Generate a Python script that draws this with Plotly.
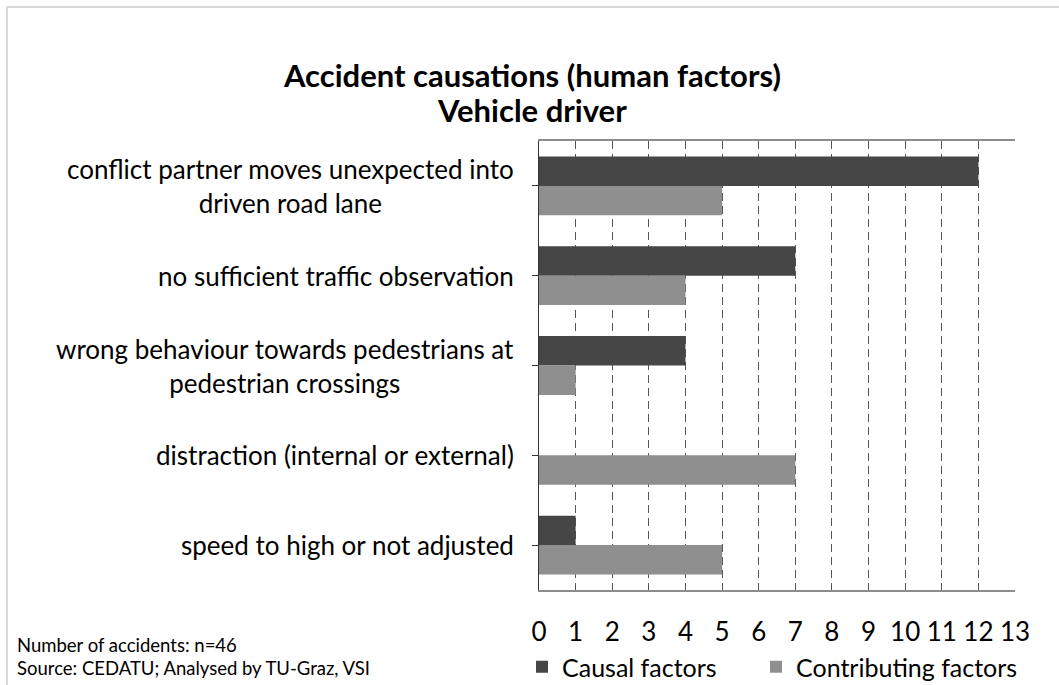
import plotly.graph_objects as go

categories = [
    "conflict partner moves unexpected into\ndriven road lane",
    "no sufficient traffic observation",
    "wrong behaviour towards pedestrians at\npedestrian crossings",
    "distraction (internal or external)",
    "speed to high or not adjusted",
]
causal = [12, 7, 4, 0, 1]
contributing = [5, 4, 1, 7, 5]
x_ticks = list(range(0, 14))
series_names = ["Causal factors", "Contributing factors"]
title_lines = ["Accident causations (human factors)", "Vehicle driver"]
notes = ["Number of accidents: n=46", "Source: CEDATU; Analysed by TU-Graz, VSI"]

W, H = 1059, 685
OFF = 0  # body margin removed via post_script
# plot area in page pixels
PL, PR, PT, PB = 539, 1015, 141, 590
L = PL - OFF
T = PT - OFF
R = W - (PR - OFF)
B = H - (PB - OFF)
PW, PH = W - L - R, H - T - B


def px_x(p):
    return (p - OFF - L) / PW


def px_y(p):
    return (H - B - (p - OFF)) / PH


FONT = "Lato, Carlito, Calibri, sans-serif"
DARK = "#464646"
LIGHT = "#8f8f8f"

cat_ids = list(range(len(categories)))

fig = go.Figure()
fig.add_trace(go.Bar(y=cat_ids, x=causal, orientation="h", name=series_names[0],
                     marker=dict(color=DARK, line=dict(width=0)), legend="legend"))
fig.add_trace(go.Bar(y=cat_ids, x=contributing, orientation="h", name=series_names[1],
                     marker=dict(color=LIGHT, line=dict(width=0)), legend="legend2"))

annotations = []
for i, lab in enumerate(categories):
    annotations.append(dict(
        text=lab.replace("\n", "<br>"), x=px_x(516), y=i, xref="paper", yref="y",
        xanchor="right", yanchor="middle", align="center", showarrow=False,
        font=dict(family=FONT, size=26, color="#000000")))

for line, yc in zip(title_lines, [75, 110]):
    annotations.append(dict(
        text="<b>" + line + "</b>", x=px_x(532), y=px_y(yc),
        xref="paper", yref="paper", xanchor="center", yanchor="middle",
        align="center", showarrow=False, font=dict(family=FONT, size=31, color="#000000")))

for line, yc in zip(notes, [645, 668]):
    annotations.append(dict(
        text=line, x=px_x(15), y=px_y(yc), xref="paper", yref="paper",
        xanchor="left", yanchor="middle", align="left", showarrow=False,
        font=dict(family=FONT, size=18.5, color="#000000")))

shapes = [
    dict(type="line", xref="paper", yref="paper", x0=px_x(7), x1=px_x(1070),
         y0=px_y(7), y1=px_y(7), line=dict(color="#d9d9d9", width=2)),
    dict(type="line", xref="paper", yref="paper", x0=px_x(7), x1=px_x(7),
         y0=px_y(7), y1=px_y(700), line=dict(color="#d9d9d9", width=2)),
]

legend_common = dict(orientation="h", yanchor="middle", xanchor="left",
                     font=dict(family=FONT, size=25, color="#000000"),
                     bgcolor="rgba(0,0,0,0)", itemwidth=30)

fig.update_layout(
    width=W, height=H,
    margin=dict(l=L, r=R, t=T, b=B, pad=0, autoexpand=False),
    paper_bgcolor="white", plot_bgcolor="white",
    barmode="group", bargap=0.345, bargroupgap=0,
    font=dict(family=FONT, size=26, color="#000000"),
    showlegend=True,
    legend=dict(x=px_x(522), y=px_y(667), **legend_common),
    legend2=dict(x=px_x(756), y=px_y(667), **legend_common),
    xaxis=dict(range=[0, 13], tickmode="array", tickvals=x_ticks,
               ticktext=[str(v) for v in x_ticks],
               showgrid=True, gridcolor="#555555", gridwidth=1, griddash="8px,5px",
               zeroline=False, showline=True, linecolor="#8c8c8c", linewidth=1.5,
               mirror=True, ticks="", ticklabelstandoff=18,
               tickfont=dict(family=FONT, size=26, color="#000000"), fixedrange=True),
    yaxis=dict(range=[len(categories) - 0.5, -0.5], tickmode="array", tickvals=cat_ids,
               ticktext=[""] * len(categories), tickson="boundaries",
               ticks="outside", ticklen=6, tickcolor="#333333", tickwidth=1,
               showgrid=False, zeroline=False, showline=True, linecolor="#333333",
               linewidth=1, fixedrange=True),
    annotations=annotations,
    shapes=shapes,
)

fig.write_html("out.html",
               config={"displayModeBar": False},
               post_script="document.body.style.margin='0px';document.body.style.overflow='hidden';")
